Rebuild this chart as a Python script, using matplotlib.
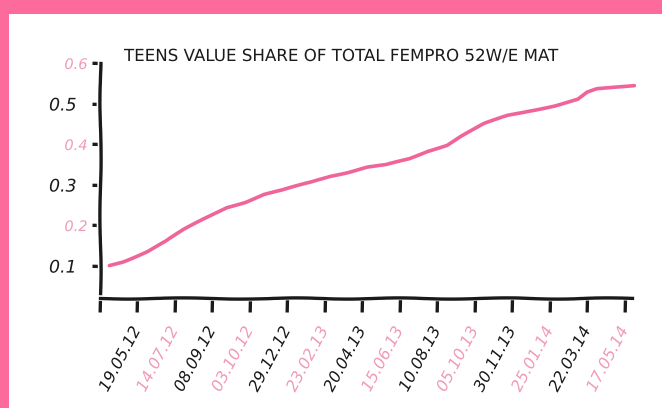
import matplotlib
matplotlib.use("Agg")
import matplotlib.pyplot as plt
from matplotlib.patches import Rectangle
from matplotlib.transforms import ScaledTranslation

# Weekly value share (weeks counted from 24.03.12)
weeks = [2, 5, 10, 14, 18, 22, 27, 31, 35, 39, 45, 49, 53, 57, 61, 66,
         70, 74, 77, 82, 87, 92, 97, 102, 104, 106, 110, 114]
share = [0.100, 0.110, 0.135, 0.160, 0.189, 0.214, 0.244, 0.257, 0.276,
         0.286, 0.306, 0.321, 0.331, 0.343, 0.348, 0.363, 0.383, 0.398,
         0.420, 0.450, 0.470, 0.483, 0.495, 0.510, 0.527, 0.535, 0.540,
         0.545]

tick_weeks = [0, 8, 16, 24, 32, 40, 48, 56, 64, 72, 80, 88, 96, 104, 112]
tick_labels = ["", "19.05.12", "14.07.12", "08.09.12", "03.10.12",
               "29.12.12", "23.02.13", "20.04.13", "15.06.13", "10.08.13",
               "05.10.13", "30.11.13", "25.01.14", "22.03.14", "17.05.14"]
y_ticks = [0.1, 0.2, 0.3, 0.4, 0.5, 0.6]
y_labels = ["0.1", "0.2", "0.3", "0.4", "0.5", "0.6"]

title = "TEENS VALUE SHARE OF TOTAL FEMPRO 52W/E MAT"

FRAME = "#fd6b9d"
LINE = "#ef6599"
SOFT = "#f09bb9"
INK = "#1a1a1a"

plt.xkcd(scale=0.6, length=120, randomness=2)
plt.rcParams["font.family"] = ["DejaVu Sans"]

fig = plt.figure(figsize=(6.62, 4.08), dpi=100, facecolor=FRAME)
panel = Rectangle((9 / 662, 0), 1, (408 - 14) / 408, transform=fig.transFigure,
                  facecolor="white", edgecolor="none", zorder=-5)
panel.set_sketch_params(None)
panel.set_path_effects([])
fig.patches.append(panel)

ax = fig.add_axes([100 / 662, 110 / 408, 532 / 662, 235 / 408])
ax.set_zorder(2)
ax.set_facecolor("none")
ax.plot(weeks, share, color=LINE, lw=2.6, clip_on=False, solid_capstyle="round")

ax.set_xlim(0, 113.5)
ax.set_ylim(0.02, 0.6)
for side in ("top", "right"):
    ax.spines[side].set_visible(False)
for side in ("left", "bottom"):
    ax.spines[side].set_linewidth(2.4)
    ax.spines[side].set_color(INK)

ax.set_yticks(y_ticks)
ax.set_yticklabels(y_labels, fontstyle="italic")
ax.tick_params(axis="y", length=6, width=2.4, color=INK, pad=3)
left_shift = ScaledTranslation(-11 / 100, 0, fig.dpi_scale_trans)
for i, lab in enumerate(ax.get_yticklabels()):
    if i % 2 == 0:
        lab.set_color(INK)
        lab.set_fontsize(12.5)
        lab.set_transform(lab.get_transform() + left_shift)
    else:
        lab.set_color(SOFT)
        lab.set_fontsize(10.5)

ax.set_xticks(tick_weeks)
ax.set_xticklabels(tick_labels, rotation=62, ha="right", fontsize=11.5,
                   fontstyle="italic")
ax.tick_params(axis="x", length=10, width=2.4, color=INK, pad=9)
shift = ScaledTranslation(6 / 100, 0, fig.dpi_scale_trans)
for i, lab in enumerate(ax.get_xticklabels()):
    lab.set_color(INK if i % 2 == 1 else SOFT)
    lab.set_transform(lab.get_transform() + shift)

fig.text(124 / 662, 1 - 56 / 408, title, ha="left", va="center",
         fontsize=12, color=INK, zorder=3)

fig.savefig("out.png", dpi=100, facecolor=fig.get_facecolor())
